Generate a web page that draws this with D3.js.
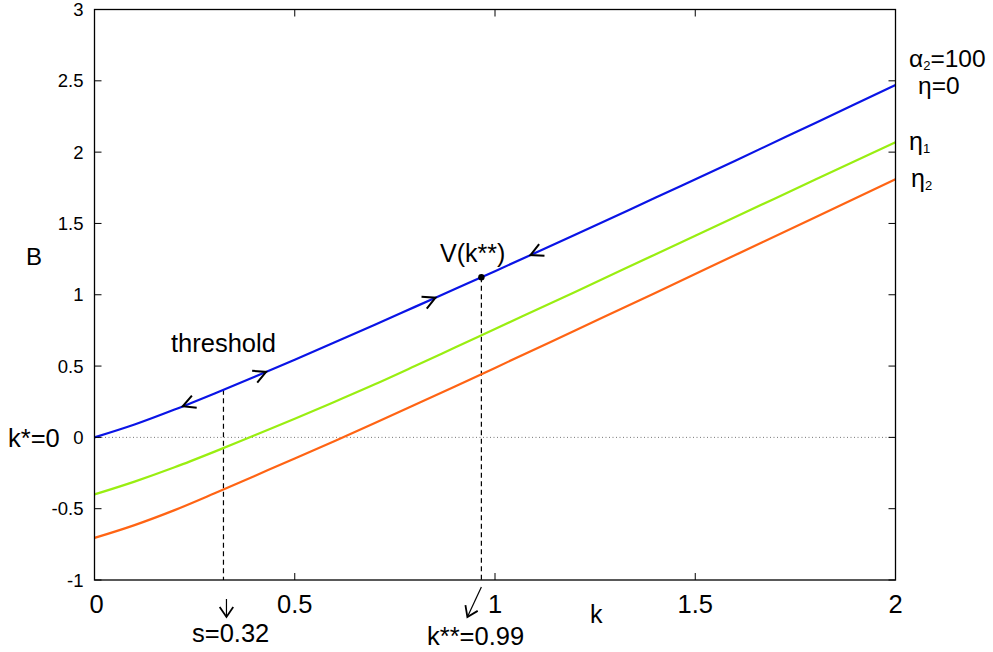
<!DOCTYPE html>
<html>
<head>
<meta charset="utf-8">
<script src="https://cdn.jsdelivr.net/npm/d3@7"></script>
<style>
  body { margin: 0; background: #fff; }
  svg { font-family: "Liberation Sans", Arial, sans-serif; }
</style>
</head>
<body>
<div id="chart"></div>
<script>
// data
const kValues  = [0, 0.1, 0.2, 0.3, 0.4, 0.5, 0.6, 0.7, 0.8, 0.9, 1.0, 1.2, 1.4, 1.6, 1.8, 2.0];
const bEta0    = [0, 0.09, 0.195, 0.308, 0.425, 0.545, 0.667, 0.79, 0.915, 1.04, 1.165, 1.42, 1.68, 1.94, 2.205, 2.47];
const bEta1    = [-0.40, -0.31, -0.21, -0.10, 0.015, 0.13, 0.25, 0.372, 0.50, 0.63, 0.76, 1.02, 1.283, 1.545, 1.808, 2.07];
const bEta2    = [-0.705, -0.615, -0.51, -0.392, -0.27, -0.148, -0.025, 0.10, 0.228, 0.357, 0.487, 0.75, 1.013, 1.278, 1.543, 1.81];
const xTicks   = [0, 0.5, 1, 1.5, 2];
const yTicks   = [-1, -0.5, 0, 0.5, 1, 1.5, 2, 2.5, 3];
const sValue   = 0.322;   // threshold s
const kStar2   = 0.966;   // k**
const flowArrows = [      // direction arrows on the eta=0 curve
  { k: 0.232, dir: -1 },
  { k: 0.417, dir: 1 },
  { k: 0.84, dir: 1 },
  { k: 1.10, dir: -1 },
];

const margin = { top: 9.5, left: 94.5 };
const width = 801;
const height = 570.5;

const svg = d3.select('#chart')
  .append('svg')
  .attr('width', 993)
  .attr('height', 652);

const g = svg.append('g')
  .attr('transform', `translate(${margin.left},${margin.top})`);

const x = d3.scaleLinear().domain([0, 2]).range([0, width]);
const y = d3.scaleLinear().domain([-1, 3]).range([height, 0]);

const interpB = (arr, k) => {
  let i = d3.bisectRight(kValues, k) - 1;
  i = Math.max(0, Math.min(kValues.length - 2, i));
  const t = (k - kValues[i]) / (kValues[i + 1] - kValues[i]);
  return arr[i] + t * (arr[i + 1] - arr[i]);
};

// zero line
g.append('line')
  .attr('x1', 0).attr('x2', width)
  .attr('y1', y(0)).attr('y2', y(0))
  .attr('stroke', '#777')
  .attr('stroke-width', 1)
  .attr('stroke-dasharray', '1,2.5');

// dashed markers from curve down to axis
[sValue, kStar2].forEach(k => {
  g.append('line')
    .attr('x1', x(k)).attr('x2', x(k))
    .attr('y1', y(interpB(bEta0, k))).attr('y2', height)
    .attr('stroke', '#000')
    .attr('stroke-width', 1.2)
    .attr('stroke-dasharray', '5,3.5');
});

// curves
const line = d3.line()
  .x((d, i) => x(kValues[i]))
  .y(d => y(d))
  .curve(d3.curveMonotoneX);

[
  { data: bEta0, color: '#0a14e6' },
  { data: bEta1, color: '#99ee11' },
  { data: bEta2, color: '#ff6414' },
].forEach(s => {
  g.append('path')
    .attr('d', line(s.data))
    .attr('fill', 'none')
    .attr('stroke', s.color)
    .attr('stroke-width', 2.2);
});

// frame
g.append('rect')
  .attr('width', width).attr('height', height)
  .attr('fill', 'none')
  .attr('stroke', '#000')
  .attr('stroke-width', 1.3);

// ticks (inward, mirrored)
const tl = 7;
xTicks.forEach(t => {
  g.append('line').attr('x1', x(t)).attr('x2', x(t)).attr('y1', height).attr('y2', height - tl).attr('stroke', '#000');
  g.append('line').attr('x1', x(t)).attr('x2', x(t)).attr('y1', 0).attr('y2', tl).attr('stroke', '#000');
  g.append('text')
    .attr('x', t === 0 ? x(t) + 2 : x(t)).attr('y', 613 - margin.top)
    .attr('text-anchor', 'middle')
    .attr('font-size', 25.5)
    .text(String(t));
});
yTicks.forEach(t => {
  g.append('line').attr('x1', 0).attr('x2', tl).attr('y1', y(t)).attr('y2', y(t)).attr('stroke', '#000');
  g.append('line').attr('x1', width).attr('x2', width - tl).attr('y1', y(t)).attr('y2', y(t)).attr('stroke', '#000');
  g.append('text')
    .attr('x', -11).attr('y', y(t))
    .attr('dy', '0.36em')
    .attr('text-anchor', 'end')
    .attr('font-size', 18.5)
    .text(String(t));
});

// point V(k**)
g.append('circle')
  .attr('cx', x(kStar2)).attr('cy', y(interpB(bEta0, kStar2)))
  .attr('r', 3.2).attr('fill', '#000');

// flow arrows (open chevrons along the curve)
const chevron = (px, py, ang, len = 14, spread = 0.48) => {
  const a1 = ang + Math.PI - spread, a2 = ang + Math.PI + spread;
  return `M${px + len * Math.cos(a1)},${py + len * Math.sin(a1)}L${px},${py}L${px + len * Math.cos(a2)},${py + len * Math.sin(a2)}`;
};
flowArrows.forEach(a => {
  const px = x(a.k), py = y(interpB(bEta0, a.k));
  const dx = x(a.k + 0.01) - x(a.k - 0.01);
  const dy = y(interpB(bEta0, a.k + 0.01)) - y(interpB(bEta0, a.k - 0.01));
  let ang = Math.atan2(dy, dx);
  if (a.dir < 0) ang += Math.PI;
  g.append('path')
    .attr('d', chevron(px + 5 * Math.cos(ang), py + 5 * Math.sin(ang), ang))
    .attr('fill', 'none').attr('stroke', '#000').attr('stroke-width', 2);
});

// arrows below the axis
const arrow = (x1, y1, x2, y2) => {
  const ang = Math.atan2(y2 - y1, x2 - x1);
  svg.append('line').attr('x1', x1).attr('y1', y1).attr('x2', x2).attr('y2', y2)
    .attr('stroke', '#000').attr('stroke-width', 1.2);
  svg.append('path').attr('d', chevron(x2, y2, ang, 12, 0.6))
    .attr('fill', 'none').attr('stroke', '#000').attr('stroke-width', 1.8);
};
arrow(margin.left + x(sValue) + 3, 599, margin.left + x(sValue) + 3, 617);
arrow(margin.left + x(kStar2), 587, margin.left + x(kStar2) - 14, 617);

// labels
const label = (txt, lx, ly, size) => svg.append('text')
  .attr('x', lx).attr('y', ly).attr('font-size', size).text(txt);

label('B', 26, 265, 24);
label('k', 590, 623, 25);
label('k*=0', 8, 447, 25.5);
label('threshold', 171, 352, 25.5);
label('V(k**)', 440, 262, 25);
label('s=0.32', 192, 642, 25.5);
label('k**=0.99', 427, 645, 25.5);

const greek = (base, sub, rest, lx, ly, size) => {
  const t = svg.append('text').attr('x', lx).attr('y', ly).attr('font-size', size);
  t.append('tspan').text(base);
  if (sub) t.append('tspan').attr('font-size', 13).attr('dy', 3).text(sub);
  if (rest) t.append('tspan').attr('font-size', size).attr('dy', sub ? -3 : 0).text(rest);
};
greek('α', '2', '=100', 909, 67, 24.5);
greek('η', null, '=0', 918, 94, 24.5);
greek('η', '1', null, 909, 150, 25);
greek('η', '2', null, 911, 187, 25);
</script>
</body>
</html>
